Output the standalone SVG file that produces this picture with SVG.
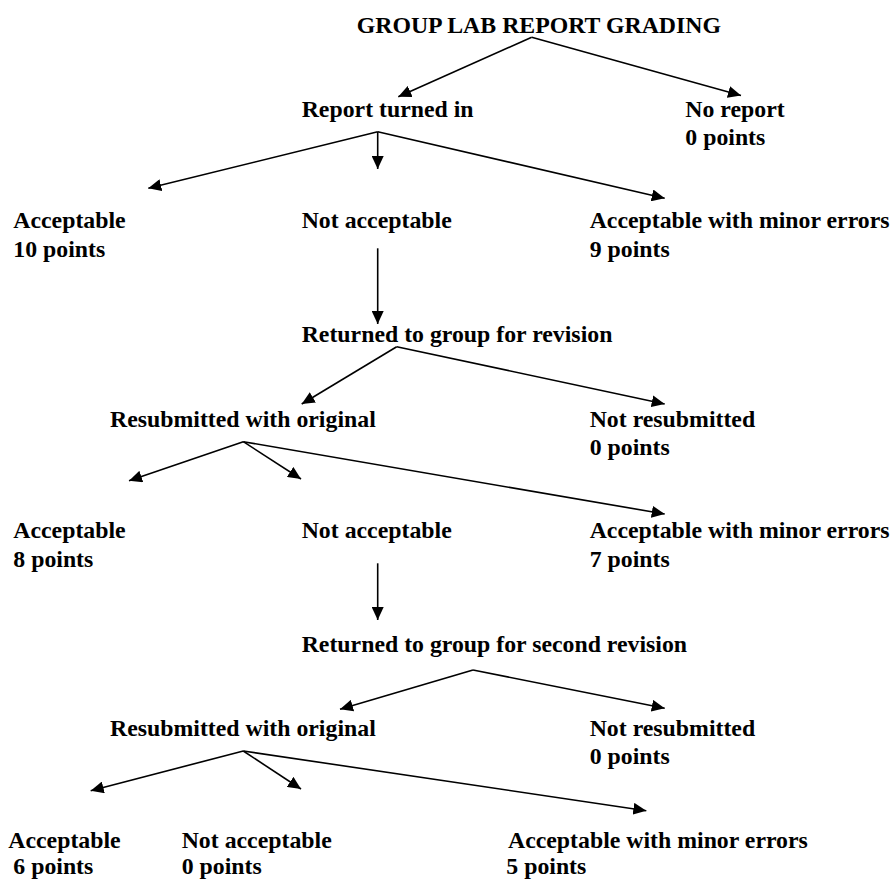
<svg xmlns="http://www.w3.org/2000/svg" width="893" height="879" viewBox="0 0 893 879">
<style>
text{font-family:"Liberation Serif","Times New Roman",serif;font-weight:bold;font-size:23.8px;fill:#000}
.c line{stroke:#000;stroke-width:1.6;fill:none;marker-end:url(#ah)}
</style>
<defs>
<marker id="ah" markerUnits="userSpaceOnUse" markerWidth="14" markerHeight="12" refX="13" refY="6" orient="auto">
<path d="M0,0 L13,6 L0,12 z" fill="#000"/>
</marker>
</defs>
<rect width="893" height="879" fill="#fff"/>
<g class="c" id="connectors">
<line x1="531.7" y1="37.3" x2="398.3" y2="96.7"/>
<line x1="531.7" y1="37.3" x2="741" y2="95.5"/>
<line x1="377.7" y1="131.7" x2="148.3" y2="188.3"/>
<line x1="377.7" y1="131.7" x2="377.7" y2="169"/>
<line x1="377.7" y1="131.7" x2="664.7" y2="198.3"/>
<line x1="377.7" y1="248.3" x2="377.7" y2="324"/>
<line x1="396.7" y1="346.7" x2="301.7" y2="404"/>
<line x1="396.7" y1="346.7" x2="664.7" y2="404"/>
<line x1="243.3" y1="441.7" x2="129" y2="480.7"/>
<line x1="243.3" y1="441.7" x2="301" y2="479"/>
<line x1="243.3" y1="441.7" x2="664.7" y2="514"/>
<line x1="377.7" y1="563.3" x2="377.7" y2="620"/>
<line x1="473" y1="670" x2="340" y2="709.3"/>
<line x1="473" y1="670" x2="664.7" y2="708.3"/>
<line x1="243.3" y1="751" x2="90.7" y2="790.7"/>
<line x1="243.3" y1="751" x2="301" y2="789"/>
<line x1="243.3" y1="751" x2="646.3" y2="810.7"/>
</g>
<g id="title"><text x="356.7" y="33">GROUP LAB REPORT GRADING</text></g>
<g id="report-turned-in"><text x="301.7" y="116.7">Report turned in</text></g>
<g id="no-report"><text x="685.3" y="116.7">No report</text><text x="685.3" y="145">0 points</text></g>
<g id="acceptable-1"><text x="13.3" y="228.3">Acceptable</text><text x="13.3" y="257">10 points</text></g>
<g id="not-acceptable-1"><text x="301.7" y="228.3">Not acceptable</text></g>
<g id="minor-1"><text x="589.7" y="228.3">Acceptable with minor errors</text><text x="589.7" y="257">9 points</text></g>
<g id="returned-1"><text x="301.7" y="342.3">Returned to group for revision</text></g>
<g id="resubmitted-1"><text x="110" y="426.7">Resubmitted with original</text></g>
<g id="not-resubmitted-1"><text x="589.7" y="426.7">Not resubmitted</text><text x="589.7" y="454.5">0 points</text></g>
<g id="acceptable-2"><text x="13.3" y="538.3">Acceptable</text><text x="13.3" y="566.5">8 points</text></g>
<g id="not-acceptable-2"><text x="301.7" y="538.3">Not acceptable</text></g>
<g id="minor-2"><text x="589.7" y="538.3">Acceptable with minor errors</text><text x="589.7" y="566.5">7 points</text></g>
<g id="returned-2"><text x="301.7" y="651.7">Returned to group for second revision</text></g>
<g id="resubmitted-2"><text x="110" y="736">Resubmitted with original</text></g>
<g id="not-resubmitted-2"><text x="589.7" y="736">Not resubmitted</text><text x="589.7" y="763.5">0 points</text></g>
<g id="acceptable-3"><text x="8.3" y="848.3">Acceptable</text><text x="13.3" y="873.5">6 points</text></g>
<g id="not-acceptable-3"><text x="181.7" y="848.3">Not acceptable</text><text x="181.7" y="873.5">0 points</text></g>
<g id="minor-3"><text x="508" y="848.3">Acceptable with minor errors</text><text x="506.3" y="873.5">5 points</text></g>
</svg>
